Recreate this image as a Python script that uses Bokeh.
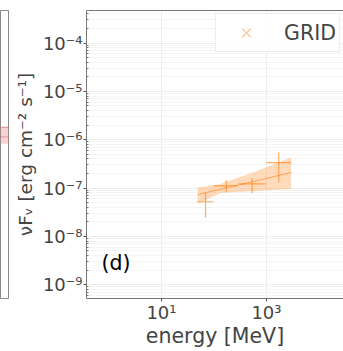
from bokeh.plotting import figure
from bokeh.layouts import row
from bokeh.models import (FixedTicker, CustomJSTickFormatter, Legend, LegendItem,
                          Label, LogAxis, ColumnDataSource, Range1d)
from bokeh.embed import file_html
from bokeh.resources import INLINE

# ---- data ----
energy = [69, 171, 533, 1715]            # MeV
energy_lo = [48.5, 98, 293, 1000]
energy_hi = [98, 280, 955, 2950]
flux = [5.2e-8, 1.11e-7, 1.22e-7, 3.34e-7]   # erg cm^-2 s^-1
flux_lo = [2.45e-8, 8.3e-8, 7.9e-8, 1.32e-7]
flux_hi = [7.9e-8, 1.46e-7, 1.6e-7, 5.4e-7]

band_energy = [49, 133, 250, 535, 2950]
band_lo = [4.7e-8, 7.9e-8, 8.3e-8, 8.6e-8, 9.5e-8]
band_hi = [1.03e-7, 1.21e-7, 1.56e-7, 2.06e-7, 4.3e-7]

model_energy = [49, 2950]
model_flux = [7.3e-8, 2.09e-7]

x_ticks = [10, 1000]
y_ticks = [1e-9, 1e-8, 1e-7, 1e-6, 1e-5, 1e-4]

# neighbouring panel (only its right edge is visible)
nb_x = [0, 1]
nb_lo = [1.05e-6, 1.05e-6]
nb_hi = [2.33e-6, 2.33e-6]
nb_model = [1.46e-6, 1.46e-6]

FONT = "DejaVu Sans"
ORANGE = "#ff7f0e"

# ---- neighbouring panel strip ----
left = figure(width=9, height=351, output_backend="svg", toolbar_location=None,
              x_axis_location=None, y_axis_location=None, y_axis_type="log",
              x_range=Range1d(0, 1), y_range=Range1d(10 ** -9.224, 10 ** -3.184),
              min_border_left=0, min_border_right=1, min_border_top=3, min_border_bottom=53)
left.xgrid.visible = False
left.ygrid.visible = False
left.outline_line_color = "#888888"
left.outline_line_width = 1
left.varea(x=nb_x, y1=nb_lo, y2=nb_hi, fill_color="#f7a6a6", fill_alpha=0.5)
left.line(nb_x, nb_hi, line_color="#e06060", line_alpha=0.7, line_width=1)
left.line(nb_x, nb_model, line_color="#e06060", line_alpha=0.5, line_width=1)

# ---- main panel ----
p = figure(width=334, height=351, output_backend="svg", toolbar_location=None,
           x_axis_type="log", y_axis_type="log",
           x_range=Range1d(10 ** -0.4286, 10 ** 4.467),
           y_range=Range1d(10 ** -9.286, 10 ** -3.327),
           min_border_left=77, min_border_right=0, min_border_top=10, min_border_bottom=50)
p.outline_line_color = None
p.background_fill_color = "white"

sup = CustomJSTickFormatter(code="""
const m = {'-':'\u207b','0':'\u2070','1':'\u00b9','2':'\u00b2','3':'\u00b3','4':'\u2074',
           '5':'\u2075','6':'\u2076','7':'\u2077','8':'\u2078','9':'\u2079'};
const e = Math.round(Math.log10(tick)).toString();
return '10' + e.split('').map(c => m[c]).join('');
""")

minor_y = [m * t for t in [1e-10] + y_ticks for m in range(2, 10)]

# x axis
xa = p.xaxis[0]
xa.ticker = FixedTicker(ticks=x_ticks, minor_ticks=[])
xa.formatter = sup
xa.axis_label = "energy [MeV]"
xa.axis_label_text_font = FONT
xa.axis_label_text_font_size = "20.5px"
xa.axis_label_text_font_style = "normal"
xa.axis_label_standoff = -2
xa.major_label_text_font = FONT
xa.major_label_text_font_size = "18px"
xa.major_label_standoff = 0
xa.major_tick_out = 3
xa.major_tick_in = 0
xa.axis_line_color = "#777777"
xa.major_tick_line_color = "#555555"

# y axis
ya = p.yaxis[0]
ya.ticker = FixedTicker(ticks=y_ticks, minor_ticks=minor_y)
ya.formatter = sup
ya.axis_label = "\u03bdF\u1d65 [erg cm\u207b\u00b2 s\u207b\u00b9]"
ya.axis_label_text_font = FONT
ya.axis_label_text_font_size = "18.5px"
ya.axis_label_text_font_style = "normal"
ya.axis_label_standoff = 4
ya.major_label_text_font = FONT
ya.major_label_text_font_size = "18px"
ya.major_label_standoff = 1
ya.major_tick_out = 3
ya.major_tick_in = 0
ya.minor_tick_out = 0
ya.minor_tick_in = 2
ya.axis_line_color = "#777777"
ya.major_tick_line_color = "#555555"
ya.minor_tick_line_color = "#777777"

# top frame line
top = LogAxis(ticker=FixedTicker(ticks=[]), major_label_text_font_size="0px",
              major_tick_out=0, minor_tick_out=0, major_tick_in=0, minor_tick_in=0,
              axis_line_color="#777777")
p.add_layout(top, "above")

# grid
p.xgrid.ticker = FixedTicker(ticks=x_ticks)
p.xgrid.grid_line_color = "#ececec"
p.ygrid.grid_line_color = "#efefef"
p.ygrid.minor_grid_line_color = "#f5f5f5"

# band and model
p.varea(x=band_energy, y1=band_lo, y2=band_hi, fill_color=ORANGE, fill_alpha=0.28)
p.line(model_energy, model_flux, line_color=ORANGE, line_alpha=0.6, line_width=1)

# error bars
src = ColumnDataSource(dict(e=energy, elo=energy_lo, ehi=energy_hi,
                            f=flux, flo=flux_lo, fhi=flux_hi))
p.segment(x0="elo", x1="ehi", y0="f", y1="f", source=src,
          line_color=ORANGE, line_alpha=0.65, line_width=1.2)
p.segment(x0="e", x1="e", y0="flo", y1="fhi", source=src,
          line_color=ORANGE, line_alpha=0.65, line_width=1.2)

# point markers (drawn vanishingly small, as in the reference); used for the legend entry
leg_r = p.scatter(x="e", y="f", source=src, marker="x", size=0.01,
                  line_color=ORANGE, line_alpha=0.5, line_width=1.2)
legend = Legend(items=[LegendItem(label="GRID", renderers=[leg_r])],
                location=(129, 246), padding=3, margin=0, glyph_width=54,
                glyph_height=31, label_standoff=11, spacing=0, label_height=20,
                label_text_font=FONT, label_text_font_size="20.5px",
                label_text_baseline="middle",
                border_line_color="#dddddd", border_line_width=1,
                background_fill_color="white", background_fill_alpha=0.85)
p.add_layout(legend)

p.add_layout(Label(x=15, y=24, x_units="screen", y_units="screen", text="(d)",
                   text_font=FONT, text_font_size="20.5px", text_color="black"))

layout = row(left, p, spacing=0)
open("out.html", "w").write(file_html(layout, INLINE))
